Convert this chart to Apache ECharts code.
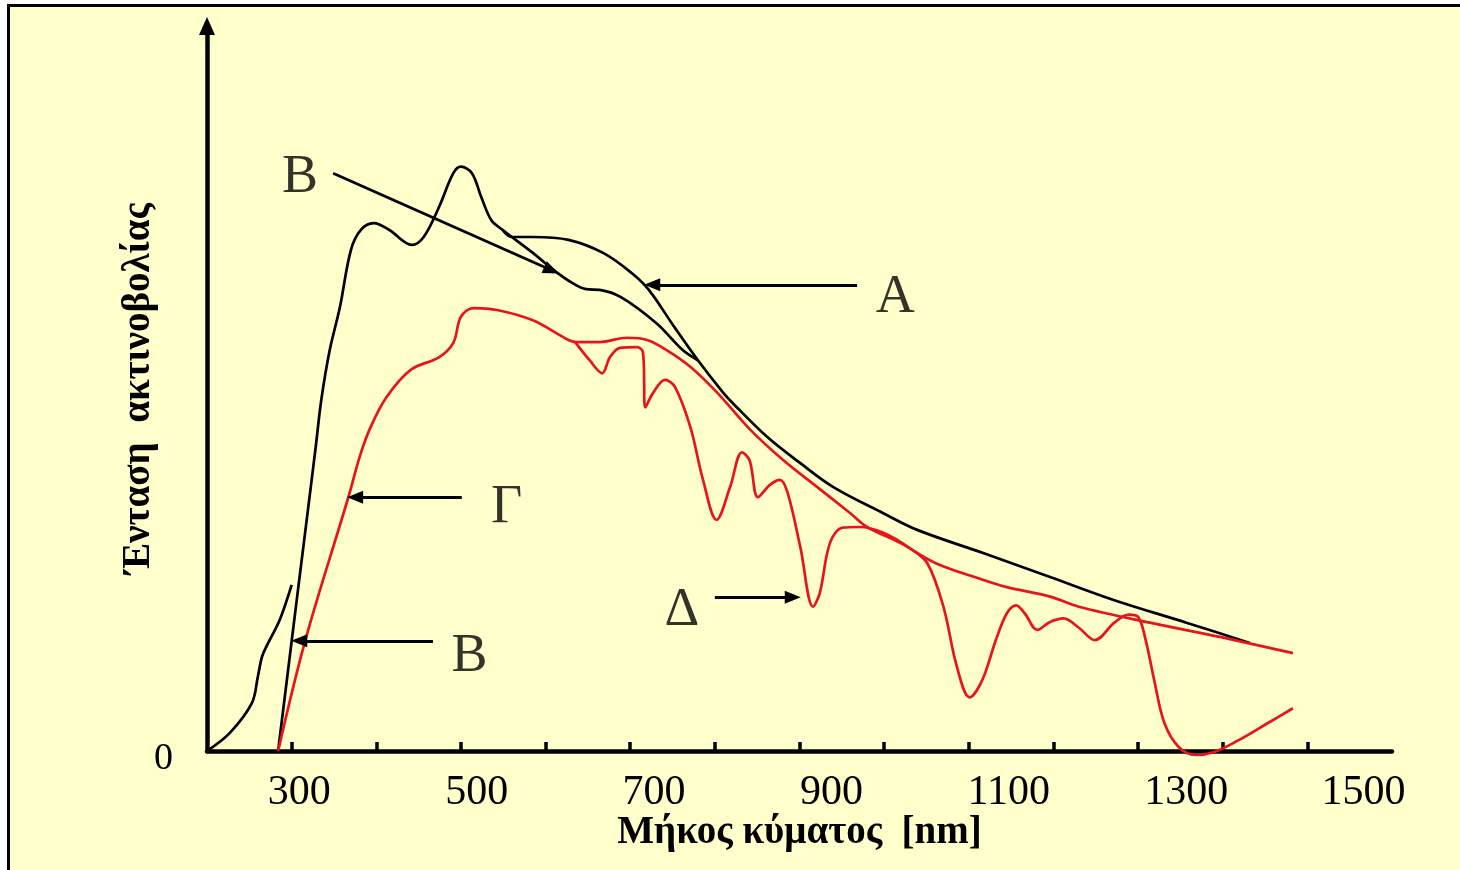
<!DOCTYPE html>
<html>
<head>
<meta charset="utf-8">
<script src="https://cdn.jsdelivr.net/npm/echarts@6/dist/echarts.min.js"></script>
<style>
html,body{margin:0;padding:0;background:#ffffff;}
#frame{position:absolute;left:7px;top:4px;width:1460px;height:870px;background:#FFFFCC;border-left:3px solid #000;border-top:3px solid #000;}
#chart{position:absolute;left:0;top:0;width:1460px;height:870px;}
</style>
</head>
<body>
<div id="frame"></div>
<div id="chart"></div>
<script>
// x: wavelength [nm], y: relative intensity (arbitrary units)
const xTickValues = [300,400,500,600,700,800,900,1000,1100,1200,1300,1400,1500];
const xLabelValues = [300,500,700,900,1100,1300,1500];
const yLabelValues = [0];

// Curve A (smooth black curve) – short left piece and upper branch
const curveALeft = [[200,0],[227,2.5],[253,6.6],[260,10.2],[265,13.0],[271,14.6],[286,18.1],[300,22.9]];
const curveA = [[549,71.9],[560,70.9],[585,70.9],[627,70.5],[668,68.7],[702,65.9],[722,63.6],[752,58.5],[780,53.9],[810,49.4],[821,48.0],[862,43.3],[901,39.7],[940,36.4],[999,32.8],[1039,30.5],[1117,27.3],[1196,24.0],[1272,20.8],[1357,17.7],[1432,14.9]];
// Curve B (black curve with bumps)
const curveB = [[284,0],[306,20.8],[328,41.5],[335,48.4],[345,55.3],[357,61.2],[370,69.1],[382,71.9],[397,72.8],[415,71.9],[442,69.8],[456,70.9],[474,75.0],[491,79.7],[500,80.6],[513,79.7],[524,76.4],[536,73.2],[549,71.9],[585,68.7],[610,66.3],[631,64.6],[648,63.7],[664,63.6],[689,62.6],[731,59.0],[762,55.3],[780,53.9]];
// Curve Γ (red envelope)
const curveG = [[284,0],[316,15.2],[367,35.0],[381,40.8],[393,44.6],[412,48.8],[441,52.6],[474,54.3],[491,56.3],[500,59.9],[515,61.1],[544,60.8],[585,59.4],[627,56.7],[637,56.4],[664,56.4],[696,57.0],[720,56.7],[743,55.3],[771,53.0],[803,49.4],[842,44.3],[881,40.1],[921,36.4],[960,32.8],[980,30.9],[1019,28.7],[1061,25.9],[1117,23.6],[1145,22.6],[1196,21.3],[1230,19.9],[1314,17.7],[1398,15.7],[1483,13.5]];
// Curve Δ (red with absorption bands)
const curveD = [[635,56.4],[652,53.9],[667,52.1],[676,54.3],[688,55.6],[708,55.7],[715,55.0],[718,47.4],[727,49.4],[741,51.2],[753,50.2],[771,44.7],[786,37.4],[802,31.9],[818,36.4],[832,41.2],[841,40.1],[851,35.0],[865,36.7],[877,37.4],[886,35.6],[901,28.1],[916,19.9],[924,21.8],[936,28.7],[951,30.8],[971,30.9],[999,30.1],[1030,28.0],[1051,25.9],[1070,19.9],[1086,11.6],[1101,7.4],[1116,9.8],[1132,15.3],[1145,19.0],[1156,20.1],[1166,19.0],[1181,16.7],[1196,17.8],[1212,18.3],[1230,17.0],[1249,15.3],[1272,17.7],[1289,18.8],[1300,18.5],[1309,15.3],[1319,9.8],[1331,3.9],[1348,0.55],[1368,-0.55],[1390,-0.14],[1419,1.5],[1454,3.9],[1483,5.9]];

// Annotation letters [x, y, text] and arrows [[x1,y1],[x2,y2]] in data units
const letterLabels = [[310,79.0,'B'],[1013,62.5,'A'],[554,33.5,'Γ'],[510,13.0,'B'],[761,19.3,'Δ']];
const arrows = [
  [[349,79.7],[607,66.3]],
  [[968,64.3],[726,64.3]],
  [[501,35.0],[375,35.0]],
  [[467,15.2],[309,15.2]],
  [[800,21.2],[892,21.2]]
];

const BLACK = '#000000';
const RED = '#e8141c';
const SERIF = '"Liberation Serif","Times New Roman",serif';

const chart = echarts.init(document.getElementById('chart'), null, {renderer:'canvas'});

function lineSeries(name, data, color) {
  return {
    name, type:'line', data, xAxisIndex:0, yAxisIndex:0,
    showSymbol:false, smooth:0.35, clip:false, silent:true,
    lineStyle:{color, width:2.7}, z:3
  };
}

const option = {
  backgroundColor:'transparent',
  animation:false,
  grid:{left:207, right:68, top:26, bottom:119, containLabel:false},
  xAxis:[
    {
      type:'value', min:200, max:1600, position:'bottom',
      axisLine:{show:true, lineStyle:{color:BLACK, width:4.5}},
      axisTick:{show:true, inside:true, length:9, customValues:xTickValues, lineStyle:{color:BLACK, width:3.5}},
      axisLabel:{show:false},
      splitLine:{show:false}
    },
    {
      type:'value', min:196, max:1532, position:'bottom', offset:0,
      axisLine:{show:false},
      axisTick:{show:false},
      splitLine:{show:false},
      axisLabel:{show:true, customValues:xLabelValues, formatter:v => String(v), color:BLACK, fontFamily:SERIF, fontSize:42, margin:21},
      name:'Μήκος κύματος  [nm]', nameLocation:'middle', nameGap:62, nameMoveOverlap:false,
      nameTextStyle:{color:BLACK, fontFamily:SERIF, fontWeight:'bold', fontSize:39}
    }
  ],
  yAxis:{
    type:'value', min:0, max:100,
    axisLine:{show:true, symbol:['none','triangle'], symbolSize:[16,18], lineStyle:{color:BLACK, width:4.5}},
    axisTick:{show:false},
    splitLine:{show:false},
    axisLabel:{show:true, customValues:yLabelValues, formatter:v => String(v), color:BLACK, fontFamily:SERIF, fontSize:38, margin:34, verticalAlign:'top', lineHeight:16},
    name:'Ένταση  ακτινοβολίας', nameLocation:'middle', nameGap:49, nameRotate:90, nameMoveOverlap:false,
    nameTextStyle:{color:BLACK, fontFamily:SERIF, fontWeight:'bold', fontSize:39}
  },
  series:[
    lineSeries('A-left', curveALeft, BLACK),
    lineSeries('A', curveA, BLACK),
    lineSeries('B', curveB, BLACK),
    lineSeries('Γ', curveG, RED),
    lineSeries('Δ', curveD, RED),
    {
      name:'labels', type:'scatter', xAxisIndex:0, yAxisIndex:0, silent:true,
      data:letterLabels, symbol:'circle', symbolSize:1,
      itemStyle:{color:'rgba(0,0,0,0)'},
      label:{show:true, position:'inside', formatter:p => p.value[2], color:BLACK, fontFamily:SERIF, fontSize:54},
      markLine:{
        silent:true, symbol:['none','triangle'], symbolSize:[13,16],
        lineStyle:{color:BLACK, width:2.8, type:'solid'},
        label:{show:false}, emphasis:{disabled:true},
        data:arrows.map(a => [{coord:a[0]},{coord:a[1]}])
      },
      z:5
    }
  ]
};
chart.setOption(option);
</script>
</body>
</html>
